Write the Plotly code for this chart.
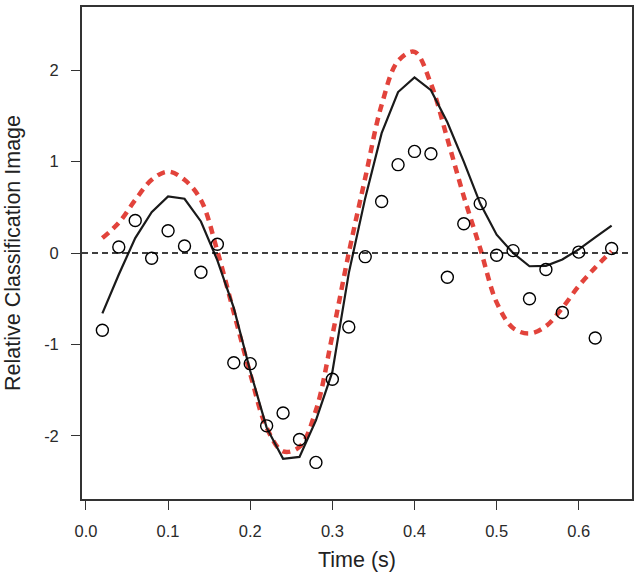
import plotly.graph_objects as go

time_s = [0.02, 0.04, 0.06, 0.08, 0.10, 0.12, 0.14, 0.16, 0.18, 0.20, 0.22,
          0.24, 0.26, 0.28, 0.30, 0.32, 0.34, 0.36, 0.38, 0.40, 0.42, 0.44,
          0.46, 0.48, 0.50, 0.52, 0.54, 0.56, 0.58, 0.60, 0.62, 0.64]

observed = [-0.845, 0.065, 0.356, -0.058, 0.244, 0.076, -0.21, 0.095, -1.20,
            -1.21, -1.89, -1.75, -2.04, -2.29, -1.38, -0.81, -0.04, 0.563,
            0.966, 1.111, 1.086, -0.265, 0.32, 0.54, -0.025, 0.026, -0.50,
            -0.18, -0.65, 0.01, -0.93, 0.05]

fitted = [-0.66, -0.235, 0.163, 0.447, 0.618, 0.593, 0.345, -0.08, -0.60,
          -1.29, -1.91, -2.25, -2.23, -1.83, -1.30, -0.22, 0.60, 1.31, 1.76,
          1.92, 1.78, 1.43, 1.00, 0.54, 0.20, 0.00, -0.145, -0.14, -0.07,
          0.04, 0.17, 0.30]

model = [0.163, 0.33, 0.58, 0.80, 0.89, 0.80, 0.58, 0.02, -0.65, -1.32,
         -1.91, -2.17, -2.12, -1.72, -0.90, 0.0, 0.82, 1.62, 2.10, 2.20, 1.85,
         1.25, 0.62, 0.05, -0.54, -0.82, -0.88, -0.80, -0.60, -0.36, -0.16,
         0.02]

x_ticks = [0.0, 0.1, 0.2, 0.3, 0.4, 0.5, 0.6]
x_tick_labels = ["0.0", "0.1", "0.2", "0.3", "0.4", "0.5", "0.6"]
y_ticks = [-2, -1, 0, 1, 2]
y_tick_labels = ["-2", "-1", "0", "1", "2"]

FONT = "Liberation Sans, Arial, sans-serif"

fig = go.Figure()

fig.add_hline(y=0, line=dict(color="black", width=1.3, dash="6px,4px"))

fig.add_trace(go.Scatter(
    x=time_s, y=model, mode="lines", line_shape="spline",
    line=dict(color="#e2433b", width=4.5, dash="8px,6px"),
    showlegend=False))

fig.add_trace(go.Scatter(
    x=time_s, y=fitted, mode="lines",
    line=dict(color="#1a1a1a", width=2.2),
    showlegend=False))

fig.add_trace(go.Scatter(
    x=time_s, y=observed, mode="markers",
    marker=dict(symbol="circle-open", size=12, color="black",
                line=dict(width=1.4, color="black")),
    showlegend=False))

axis_common = dict(
    showline=True, linecolor="#333333", linewidth=1.8, mirror=True,
    ticks="outside", ticklen=9, tickwidth=1.3, tickcolor="#333333",
    showgrid=False, zeroline=False,
    tickfont=dict(family=FONT, size=16.5, color="#2a2a2a"),
)

fig.update_xaxes(range=[-0.0048, 0.6648], tickvals=x_ticks,
                 ticktext=x_tick_labels, ticklabelstandoff=7, **axis_common)
fig.update_yaxes(range=[-2.69, 2.69], tickvals=y_ticks,
                 ticktext=y_tick_labels, ticklabelstandoff=9, **axis_common)

fig.update_layout(
    width=639, height=581,
    margin=dict(l=82, r=5, t=5, b=82),
    paper_bgcolor="white", plot_bgcolor="white",
    annotations=[
        dict(text="Time (s)", xref="paper", yref="paper", x=0.5, y=0,
             yshift=-61, xanchor="center", yanchor="middle", showarrow=False,
             font=dict(family=FONT, size=21.5, color="#222222")),
        dict(text="Relative Classification Image", xref="paper", yref="paper",
             x=0, y=0.5, xshift=-69, xanchor="center", yanchor="middle",
             textangle=-90, showarrow=False,
             font=dict(family=FONT, size=21.5, color="#222222")),
    ],
)

fig.write_html(
    "out.html",
    config={"responsive": False, "displayModeBar": False},
    post_script=(
        "document.body.style.margin='0px';"
        "document.body.style.padding='0px';"
        "document.body.style.overflow='hidden';"
    ),
)
